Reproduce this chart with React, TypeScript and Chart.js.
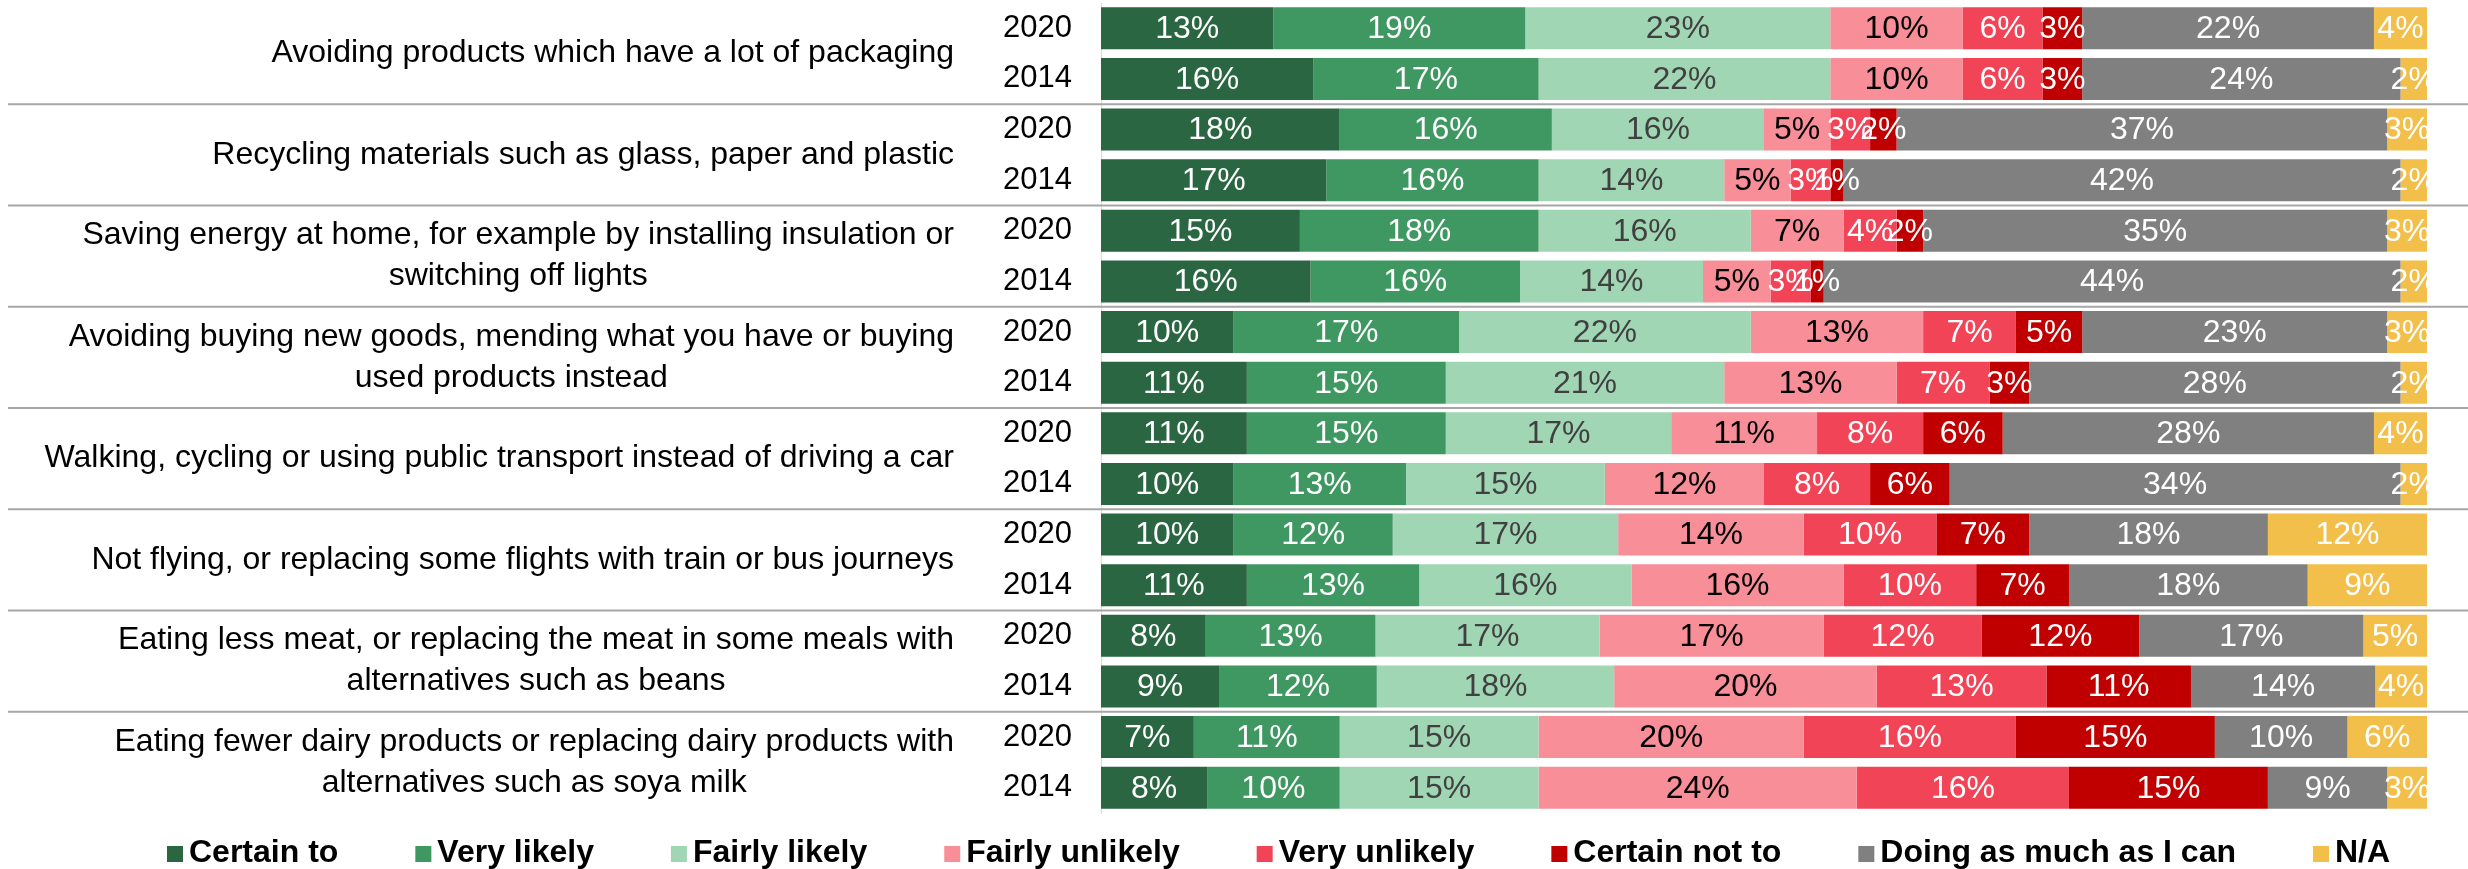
import React, { useEffect, useRef } from "react";
import { Chart, registerables } from "chart.js";

Chart.register(...registerables);

const categories: string[][] = [
  ["Avoiding products which have a lot of packaging"],
  ["Recycling materials such as glass, paper and plastic"],
  ["Saving energy at home, for example by installing insulation or", "switching off lights"],
  ["Avoiding buying new goods, mending what you have or buying", "used products instead"],
  ["Walking, cycling or using public transport instead of driving a car"],
  ["Not flying, or replacing some flights with train or bus journeys"],
  ["Eating less meat, or replacing the meat in some meals with", "alternatives such as beans"],
  ["Eating fewer dairy products or replacing dairy products with", "alternatives such as soya milk"],
];

const years = ["2020", "2014"];

const seriesNames = [
  "Certain to",
  "Very likely",
  "Fairly likely",
  "Fairly unlikely",
  "Very unlikely",
  "Certain not to",
  "Doing as much as I can",
  "N/A",
];

// order: each category -> 2020, 2014
const certainTo = [13, 16, 18, 17, 15, 15.8, 10, 11, 11, 10, 10, 11, 7.9, 8.9, 7, 8];
const veryLikely = [19, 17, 16, 16, 18, 15.8, 17, 15, 15, 13, 12, 13, 12.8, 11.9, 11, 10];
const fairlyLikely = [23, 22, 16, 14, 16, 13.8, 22, 21, 17, 15, 17, 16, 16.9, 17.9, 15, 15];
const fairlyUnlikely = [10, 10, 5, 5, 7, 5.1, 13, 13, 11, 12, 14, 16, 16.9, 19.8, 20, 24];
const veryUnlikely = [6, 6, 3, 3, 4, 3.0, 7, 7, 8, 8, 10, 10, 11.9, 12.8, 16, 16];
const certainNotTo = [3, 3, 2, 1, 2, 1.0, 5, 3, 6, 6, 7, 7, 11.9, 10.9, 15, 15];
const doingAsMuch = [22, 24, 37, 42, 35, 43.5, 23, 28, 28, 34, 18, 18, 16.9, 13.9, 10, 9];
const notApplicable = [4, 2, 3, 2, 3, 2.0, 3, 2, 4, 2, 12, 9, 4.8, 3.9, 6, 3];

const seriesValues = [
  certainTo,
  veryLikely,
  fairlyLikely,
  fairlyUnlikely,
  veryUnlikely,
  certainNotTo,
  doingAsMuch,
  notApplicable,
];

const seriesColors = [
  "#2a6641",
  "#3f9862",
  "#a1d6b5",
  "#f78e98",
  "#f24457",
  "#c00000",
  "#808080",
  "#f2bf4b",
];

const labelColors = [
  "#ffffff",
  "#ffffff",
  "#404040",
  "#000000",
  "#ffffff",
  "#ffffff",
  "#ffffff",
  "#ffffff",
];

const FONT = "'Liberation Sans', Arial, Helvetica, sans-serif";
const rowLabels = categories.flatMap(() => years);

const overlayPlugin = {
  id: "overlay",
  afterDraw(chart: any) {
    const ctx = chart.ctx as CanvasRenderingContext2D;
    const yScale = chart.scales.y;
    const W = chart.width;

    ctx.save();
    // group separators
    ctx.strokeStyle = "#a6a6a6";
    ctx.lineWidth = 2;
    for (let g = 0; g < categories.length - 1; g++) {
      const yy = (yScale.getPixelForValue(2 * g + 1) + yScale.getPixelForValue(2 * g + 2)) / 2;
      ctx.beginPath();
      ctx.moveTo(8, yy);
      ctx.lineTo(W, yy);
      ctx.stroke();
    }

    // category labels
    ctx.font = `32px ${FONT}`;
    ctx.fillStyle = "#000000";
    ctx.textAlign = "center";
    ctx.textBaseline = "middle";
    const rightEdge = 954;
    const lineH = 41;
    categories.forEach((lines, g) => {
      const cy = (yScale.getPixelForValue(2 * g) + yScale.getPixelForValue(2 * g + 1)) / 2;
      const maxW = Math.max(...lines.map((l) => ctx.measureText(l).width));
      const cx = rightEdge - maxW / 2;
      lines.forEach((l, i) => {
        ctx.fillText(l, cx, cy + (i - (lines.length - 1) / 2) * lineH);
      });
    });

    // data labels
    ctx.font = `32px ${FONT}`;
    ctx.textAlign = "center";
    ctx.textBaseline = "middle";
    chart.data.datasets.forEach((ds: any, di: number) => {
      const meta = chart.getDatasetMeta(di);
      if (meta.hidden) return;
      meta.data.forEach((el: any, i: number) => {
        const p = el.getProps(["x", "base", "y"], true);
        const v = ds.data[i];
        if (v == null) return;
        ctx.fillStyle = labelColors[di];
        ctx.fillText(`${Math.round(v)}%`, (p.x + p.base) / 2, p.y + 1);
      });
    });

    // legend
    ctx.font = `bold 32px ${FONT}`;
    ctx.textAlign = "left";
    ctx.textBaseline = "alphabetic";
    let x = 167;
    const baseY = 862;
    chart.data.datasets.forEach((ds: any) => {
      ctx.fillStyle = ds.backgroundColor;
      ctx.fillRect(x, baseY - 16, 16, 16);
      ctx.fillStyle = "#000000";
      ctx.fillText(ds.label, x + 22, baseY);
      x += 22 + ctx.measureText(ds.label).width + 77;
    });
    ctx.restore();
  },
};

export default function App() {
  const ref = useRef<HTMLCanvasElement | null>(null);

  useEffect(() => {
    if (!ref.current) return;
    const chart = new Chart(ref.current, {
      type: "bar",
      data: {
        labels: rowLabels,
        datasets: seriesNames.map((name, i) => ({
          label: name,
          data: seriesValues[i],
          backgroundColor: seriesColors[i],
          borderWidth: 0,
          barPercentage: 0.83,
          categoryPercentage: 1,
        })),
      },
      options: {
        indexAxis: "y",
        animation: false,
        responsive: false,
        devicePixelRatio: 1,
        layout: { padding: { left: 0, right: 41, top: 3, bottom: 56 } },
        plugins: {
          legend: { display: false },
          tooltip: { enabled: false },
        },
        scales: {
          x: {
            stacked: true,
            min: 0,
            max: 100,
            display: false,
          },
          y: {
            stacked: true,
            grid: { display: false, drawTicks: false },
            border: { display: true, color: "#d9d9d9", width: 1 },
            ticks: {
              font: { size: 31, family: FONT },
              color: "#000000",
              padding: 29,
              autoSkip: false,
            },
            afterFit: (s: any) => {
              s.width = 1101;
              s.paddingTop = 0;
              s.paddingBottom = 0;
            },
          },
        },
      },
      plugins: [overlayPlugin],
    } as any);
    return () => chart.destroy();
  }, []);

  return (
    <div style={{ position: "absolute", left: 0, top: 0, width: 2468, height: 869, overflow: "hidden" }}>
      <canvas ref={ref} width={2468} height={869} style={{ display: "block", width: 2468, height: 869 }} />
    </div>
  );
}
